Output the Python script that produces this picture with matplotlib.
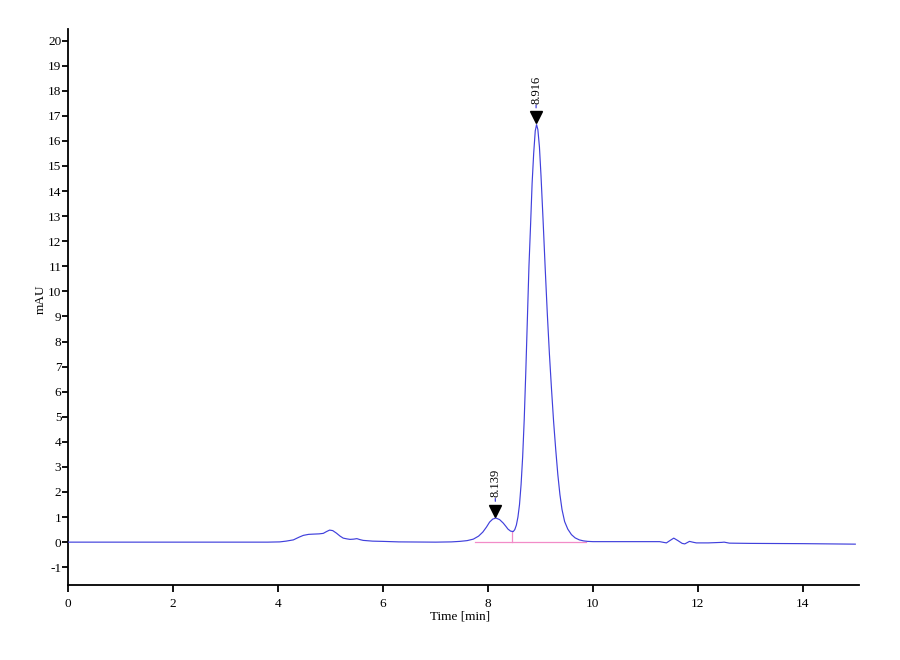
import matplotlib
matplotlib.use("Agg")
import matplotlib.pyplot as plt
import matplotlib.transforms as mtransforms
import numpy as np

# chromatogram trace (time in min, signal in mAU)
time_min = [0.0, 1.0, 2.0, 3.0, 3.8, 4.03, 4.15, 4.29, 4.40, 4.48, 4.58, 4.67,
            4.78, 4.86, 4.92, 4.98, 5.04, 5.11, 5.18, 5.24, 5.31, 5.37, 5.44,
            5.50, 5.56, 5.62, 5.80, 6.00, 6.30, 7.00, 7.30, 7.46, 7.60, 7.72,
            7.82, 7.90, 7.97, 8.03, 8.09, 8.15, 8.22, 8.29, 8.34, 8.38, 8.43,
            8.48, 8.51, 8.54, 8.57, 8.60, 8.63, 8.66, 8.69, 8.72, 8.75, 8.78,
            8.81, 8.84, 8.87, 8.90, 8.925, 8.95, 8.98, 9.01, 9.05, 9.09, 9.13,
            9.17, 9.21, 9.25, 9.29, 9.33, 9.37, 9.41, 9.46, 9.52, 9.59, 9.66,
            9.74, 9.82, 9.90, 10.0, 10.5, 11.0, 11.27, 11.40,
            11.48, 11.54, 11.62, 11.70, 11.75, 11.84, 11.90, 11.97, 12.2, 12.45,
            12.5, 12.6, 13.0, 14.0, 15.0]
signal_mau = [0.0, 0.0, 0.0, 0.0, 0.0, 0.01, 0.04, 0.09, 0.20, 0.27, 0.31, 0.32,
              0.33, 0.35, 0.42, 0.48, 0.46, 0.36, 0.24, 0.16, 0.13, 0.11, 0.12,
              0.14, 0.10, 0.07, 0.04, 0.03, 0.01, 0.0, 0.01, 0.03, 0.06, 0.12,
              0.24, 0.40, 0.60, 0.80, 0.92, 0.96, 0.90, 0.76, 0.63, 0.52, 0.44,
              0.42, 0.50, 0.68, 1.0, 1.5, 2.3, 3.4, 4.9, 6.8, 8.9, 11.0,
              12.6, 14.3, 15.5, 16.4, 16.65, 16.45, 15.75, 14.6, 12.8, 10.9, 9.1,
              7.5, 6.1, 4.8, 3.7, 2.7, 1.9, 1.3, 0.82, 0.52, 0.3, 0.17,
              0.09, 0.05, 0.03, 0.02, 0.02, 0.02, 0.02, -0.03,
              0.08, 0.16, 0.06, -0.05, -0.07, 0.03, 0.0, -0.03, -0.03, -0.01,
              0.0, -0.04, -0.05, -0.06, -0.08]

# integrated peaks
peak_times = [8.139, 8.916]
peak_heights = [0.96, 16.65]
peak_labels = ["8.139", "8.916"]

# integration baseline and drop line
baseline_start = 7.75
baseline_end = 9.87
drop_time = 8.46

x_ticks = [0, 2, 4, 6, 8, 10, 12, 14]
y_ticks = list(range(-1, 21))

plt.rcParams['font.family'] = ['Liberation Serif', 'DejaVu Serif']
plt.rcParams['axes.unicode_minus'] = False

fig = plt.figure(figsize=(9, 6.6), dpi=100)
ax = fig.add_axes([0.0759, 0.1136, 0.8785, 0.842])

trace_col = '#4040dc'
base_col = '#f28cc8'

# baseline first so the trace sits on top
ax.plot([baseline_start, baseline_end], [0, 0], color=base_col, lw=0.9, zorder=2)
drop_h = np.interp(drop_time, time_min, signal_mau)
ax.plot([drop_time, drop_time], [0, drop_h], color=base_col, lw=0.9, zorder=2)

ax.plot(time_min, signal_mau, color=trace_col, lw=0.85, zorder=3)

# peak markers: triangle tip on the apex, short stem, rotated label
tri_off = mtransforms.offset_copy(ax.transData, fig=fig, x=0, y=7.5, units='dots')
stem_off = mtransforms.offset_copy(ax.transData, fig=fig, x=0, y=14, units='dots')
for t, h, lab in zip(peak_times, peak_heights, peak_labels):
    ax.plot([t], [h], marker='v', ms=9, color='black', mec='black',
            transform=tri_off, zorder=4)
    ax.annotate("", xy=(t, h), xycoords=stem_off, xytext=(0, 6),
                textcoords='offset points',
                arrowprops=dict(arrowstyle='-', color=trace_col, lw=0.9))
    ax.annotate(lab, xy=(t, h), xycoords=stem_off, xytext=(0, 5),
                textcoords='offset points', rotation=90, ha='center',
                va='bottom', fontsize=9)

ax.set_xlim(0, 15.07)
ax.set_ylim(-1.71, 20.45)
ax.set_xticks(x_ticks)
ax.set_yticks(y_ticks)

for side in ['top', 'right']:
    ax.spines[side].set_visible(False)
for side in ['left', 'bottom']:
    ax.spines[side].set_linewidth(1.3)
ax.tick_params(direction='out', width=1.3, labelsize=9.5)
ax.tick_params(axis='x', length=5, pad=4)
ax.tick_params(axis='y', length=4, pad=1)

ax.set_xlabel("Time [min]", fontsize=9.5)
ax.set_ylabel("mAU", fontsize=9.5)
ax.xaxis.set_label_coords(0.495, -0.046)
ax.yaxis.set_label_coords(-0.027, 0.515)

fig.savefig("out.png", dpi=100)
